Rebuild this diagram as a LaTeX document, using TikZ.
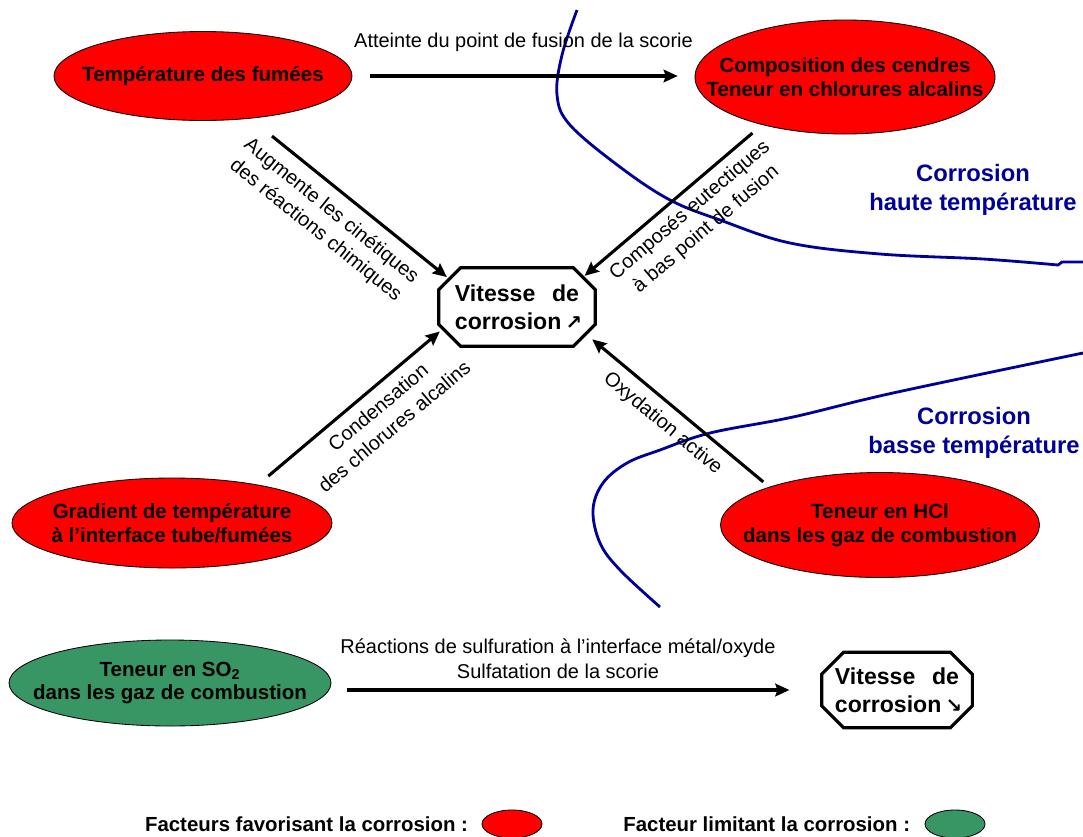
\documentclass[tikz,border=0pt]{standalone}
\usepackage{fontspec}
\setmainfont{Liberation Sans}
\newfontfamily\arrowfont{DejaVu Sans}
\usepackage{xcolor}
\definecolor{sogreen}{RGB}{56,150,100}
\definecolor{zoneblue}{RGB}{0,0,153}
\usetikzlibrary{shapes.geometric,arrows.meta}

\begin{document}
\begin{tikzpicture}[x=0.025cm,y=-0.025cm,
  dims/.style 2 args={minimum width=#1*0.025cm,minimum height=#2*0.025cm},
  cause/.style={ellipse,draw=black,line width=0.6pt,fill=red,inner sep=-100pt,align=center,font=\bfseries\fontsize{14.6}{17}\selectfont},
  limit/.style={cause,fill=sogreen},
  speed/.style={rectangle,inner sep=0pt,align=center,font=\bfseries\fontsize{16.4}{20}\selectfont},
  octline/.style={line width=2.2pt},
  arr/.style={line width=2.2pt,-{Stealth[length=10pt,width=9pt,inset=1.5pt]}},
  rarr/.style={line width=2.2pt,{Stealth[length=10pt,width=9pt,inset=1.5pt]}-},
  lbl/.style={font=\fontsize{14.2}{17.8}\selectfont,align=center},
  zone/.style={draw=zoneblue,line width=2pt},
  zonelbl/.style={text=zoneblue,font=\bfseries\fontsize{16.9}{20.6}\selectfont,align=center},
  keytxt/.style={font=\bfseries\fontsize{14.5}{17}\selectfont,anchor=east}]
\useasboundingbox (0,0) rectangle (1083,836);

\draw[zone] plot[smooth,tension=0.6] coordinates {(577,10) (562,55) (557,95) (570,125) (620,167) (670,200) (720,220) (790,243) (880,254) (983,259) (1058,265)} -- (1062,262) -- (1083,262);
\draw[zone] plot[smooth,tension=0.6] coordinates {(1083,353) (893,393) (793,417) (710,433) (660,450) (627,463) (603,483) (593,510) (600,543) (620,570) (660,607)};
\node[zonelbl] (hot) at (973,190) {Corrosion\\haute température};
\node[zonelbl] (cold) at (974,433) {Corrosion\\basse température};

\node[cause,dims={298}{89}] (fum) at (203,76) {Température des fumées};
\node[cause,dims={300}{114}] (comp) at (845,77) {Composition des cendres\\Teneur en chlorures alcalins};
\node[cause,dims={320}{90}] (gra) at (172,523) {Gradient de température\\à l’interface tube/fumées};
\node[cause,dims={319}{105}] (hcl) at (880,525) {Teneur en HCl\\dans les gaz de combustion};
\node[limit,dims={322}{86}] (so2) at (170,683) {Teneur en SO\textsubscript{2}\\dans les gaz de combustion};

\node[speed,dims={156}{78}] (v1) at (517,307) {\makebox[3.1cm][s]{Vitesse de}\\\makebox[3.1cm][s]{corrosion {\arrowfont\fontsize{14}{14}\selectfont ↗}}};
\draw[octline] ([xshift=15.6pt]v1.north west) -- ([xshift=-15.6pt]v1.north east) -- ([yshift=-15.6pt]v1.north east) -- ([yshift=15.6pt]v1.south east) -- ([xshift=-15.6pt]v1.south east) -- ([xshift=15.6pt]v1.south west) -- ([yshift=15.6pt]v1.south west) -- ([yshift=-15.6pt]v1.north west) -- cycle;
\node[speed,dims={150}{75}] (v2) at (897,690) {\makebox[3.1cm][s]{Vitesse de}\\\makebox[3.1cm][s]{corrosion {\arrowfont\fontsize{14}{14}\selectfont ↘}}};
\draw[octline] ([xshift=15.6pt]v2.north west) -- ([xshift=-15.6pt]v2.north east) -- ([yshift=-15.6pt]v2.north east) -- ([yshift=15.6pt]v2.south east) -- ([xshift=-15.6pt]v2.south east) -- ([xshift=15.6pt]v2.south west) -- ([yshift=15.6pt]v2.south west) -- ([yshift=-15.6pt]v2.north west) -- cycle;

\draw[arr,shorten <=12.8pt,shorten >=12pt] (fum.east) -- node[lbl,above=13pt] {Atteinte du point de fusion de la scorie} (comp.west |- fum.east);
\draw[arr,shorten <=19.8pt,shorten >=-7.5pt] (fum.-42) -- node[lbl,sloped,below=4pt] {Augmente les cinétiques\\des réactions chimiques} (v1.155);
\draw[rarr,shorten <=-8.9pt,shorten >=9pt] (v1.27.6) -- node[lbl,sloped,below=2pt] {Composés eutectiques\\à bas point de fusion} (comp.-150);
\draw[arr,shorten <=9.5pt,shorten >=-1pt] (gra.24) -- node[lbl,sloped,below=3pt,pos=0.6] {Condensation\\des chlorures alcalins} (v1.-162);
\draw[rarr,shorten <=-2.8pt,shorten >=5.5pt] (v1.-24.5) -- node[lbl,sloped,below=3pt,pos=0.46] {Oxydation active} (hcl.161);
\draw[arr,shorten <=11pt,shorten >=23pt] (so2.east |- v2.west) -- node[lbl,above=3.5pt,pos=0.462] {Réactions de sulfuration à l’interface métal/oxyde\\Sulfatation de la scorie} (v2.west);

\node[keytxt] (favtxt) at (473,824) {Facteurs favorisant la corrosion :};
\node[cause,dims={60}{28}] (favkey) at (512,824) {};
\node[keytxt] (limtxt) at (915,824) {Facteur limitant la corrosion :};
\node[limit,dims={60}{28}] (limkey) at (955,824) {};
\end{tikzpicture}
\end{document}
